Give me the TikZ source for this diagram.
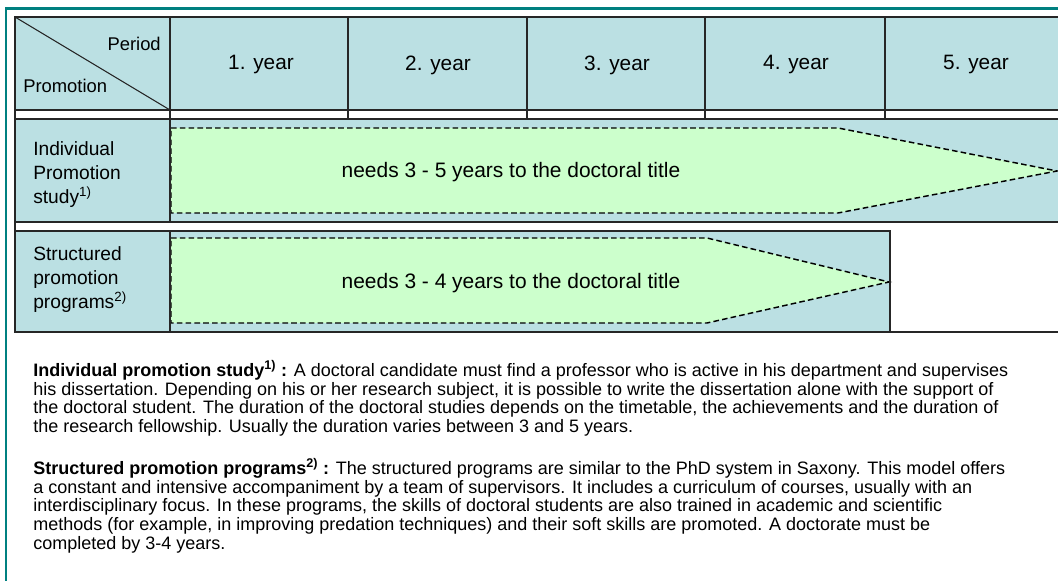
\documentclass[tikz,border=0pt]{standalone}
\usepackage{fontspec}
\setmainfont{Liberation Sans}
\definecolor{tealframe}{HTML}{008080}
\definecolor{cellblue}{HTML}{BBE0E3}
\definecolor{arrowgreen}{HTML}{CCFFCC}
\tikzset{
  gridline/.style={draw=black!85, line width=1pt},
  phasearrow/.style={fill=arrowgreen, draw=black, line width=1.1pt, dash pattern=on 4.2pt off 2.4pt},
  yearlabel/.style={font=\fontsize{15.6}{18}\selectfont, inner sep=0pt},
  arrowtext/.style={font=\fontsize{15.7}{18}\selectfont, inner sep=0pt},
  rowlabel/.style={font=\fontsize{14.4}{18}\selectfont, align=left, anchor=west, inner sep=0pt},
  cornerlabel/.style={font=\fontsize{13.8}{16}\selectfont, inner sep=0pt},
  paratext/.style={font=\fontsize{13.5}{14}\selectfont, align=left, anchor=north west, inner sep=0pt}
}
\begin{document}
\begin{tikzpicture}[x=0.75pt,y=-0.75pt]
\useasboundingbox (0,0) rectangle (1058,581);
% outer frame
\draw[tealframe, line width=1.6pt] (6,600) -- (6,8.5) -- (1070,8.5);
% fills
\fill[cellblue] (15,17) rectangle (1070,110);
\fill[cellblue] (15,119) rectangle (1070,222);
\fill[cellblue] (15,231) rectangle (890,332);
% arrows
\path[phasearrow] (171,128) -- (838,128) -- (1057,171) -- (838,213) -- (171,213) -- cycle;
\path[phasearrow] (171,238) -- (707,238) -- (889,282) -- (707,323) -- (171,323) -- cycle;
% grid lines
\draw[gridline] (1070,17) -- (15,17) -- (15,332) -- (1070,332);
\draw[gridline] (15,110) -- (1070,110);
\draw[gridline] (15,119) -- (1070,119);
\draw[gridline] (15,222) -- (1070,222);
\draw[gridline] (15,231) -- (890,231) -- (890,332);
\foreach \xx in {170,348,527,705,885} \draw[gridline] (\xx,17) -- (\xx,119);
\draw[gridline] (170,119) -- (170,222);
\draw[gridline] (170,231) -- (170,332);
\draw[gridline, line width=0.8pt] (15,17) -- (170,110);
% header labels
\node[cornerlabel, anchor=east] (period) at (161,44) {Period};
\node[cornerlabel, anchor=west] (promo) at (23,86) {Promotion};
\node[yearlabel] (y1) at (261,65) {1. year};
\node[yearlabel] (y2) at (438,65) {2. year};
\node[yearlabel] (y3) at (617,65) {3. year};
\node[yearlabel] (y4) at (796,65) {4. year};
\node[yearlabel] (y5) at (976,65) {5. year};
% row labels
\node[rowlabel] (r1) at (33,175) {Individual\\Promotion\\study\textsuperscript{1)}};
\node[rowlabel] (r2) at (33,280) {Structured\\promotion\\programs\textsuperscript{2)}};
% arrow texts
\node[arrowtext] (a1) at (511,172) {needs 3 - 5 years to the doctoral title};
\node[arrowtext] (a2) at (511,283) {needs 3 - 4 years to the doctoral title};
% paragraphs
\node[paratext] (p1) at (33,360) {\textbf{Individual promotion study\textsuperscript{1)} :} A doctoral candidate must find a professor who is active in his department and supervises\\
his dissertation. Depending on his or her research subject, it is possible to write the dissertation alone with the support of\\
the doctoral student. The duration of the doctoral studies depends on the timetable, the achievements and the duration of\\
the research fellowship. Usually the duration varies between 3 and 5 years.};
\node[paratext] (p2) at (33,458) {\textbf{Structured promotion programs\textsuperscript{2)} :} The structured programs are similar to the PhD system in Saxony. This model offers\\
a constant and intensive accompaniment by a team of supervisors. It includes a curriculum of courses, usually with an\\
interdisciplinary focus. In these programs, the skills of doctoral students are also trained in academic and scientific\\
methods (for example, in improving predation techniques) and their soft skills are promoted. A doctorate must be\\
completed by 3-4 years.};
\end{tikzpicture}
\end{document}
